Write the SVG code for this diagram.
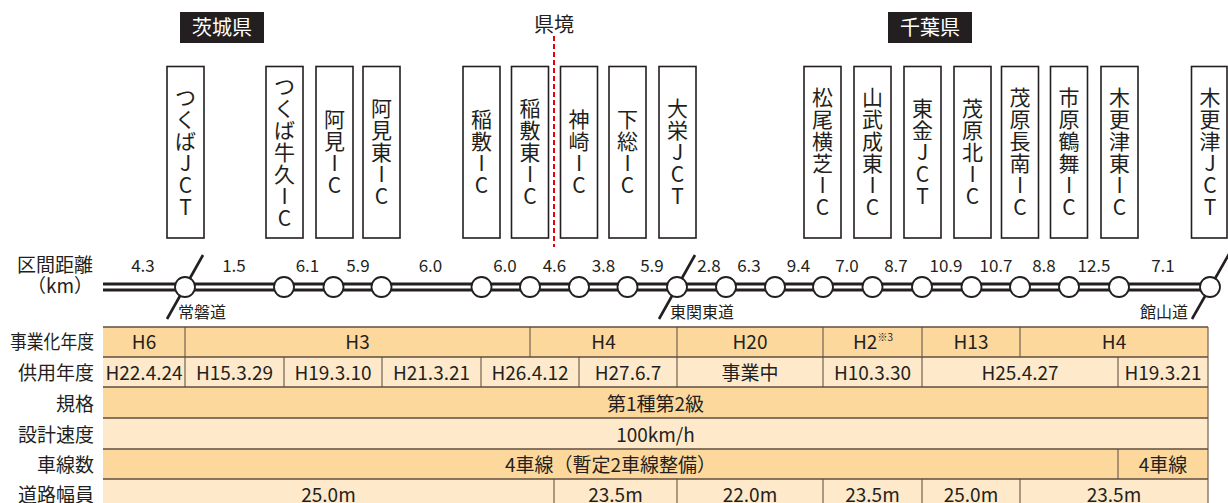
<svg xmlns="http://www.w3.org/2000/svg" width="1228" height="503" viewBox="0 0 1228 503">
<style>
text{font-family:"Noto Sans CJK JP","Noto Sans",sans-serif;fill:#231f20}
.box{fill:#fff;stroke:#231f20;stroke-width:1.6}
.vt{font-size:21px;text-anchor:middle}
.pref{fill:#231f20}
.preft{font-size:20px;fill:#fff;text-anchor:middle}
.dist{font-size:17px;text-anchor:middle}
.road{font-size:16px}
.lbl{font-size:19px;text-anchor:end}
.cell{font-size:19px;text-anchor:middle}
.dk{fill:#fdd89d}
.lt{fill:#feeacb}
.div{stroke:#7d6b58;stroke-width:1.3}
.hl{stroke:#5e4e40;stroke-width:1.3}
.ic{fill:#fff;stroke:#231f20;stroke-width:1.8}
.sl{stroke:#231f20;stroke-width:2.6;stroke-linecap:butt}
</style>

<!-- prefecture labels -->
<g id="pref-ibaraki"><rect class="pref" x="180" y="12" width="84" height="31"/><text class="preft" x="222" y="35">茨城県</text></g>
<g id="pref-chiba"><rect class="pref" x="888" y="12" width="84" height="31"/><text class="preft" x="930" y="35">千葉県</text></g>
<g id="border"><text x="554" y="32" font-size="20" text-anchor="middle">県境</text>
<line x1="554" y1="36" x2="554" y2="247" stroke="#e60012" stroke-width="2" stroke-dasharray="5 3"/></g>

<!-- nodes -->
<g id="n-tsukuba-jct"><rect class="box" x="167" y="66.5" width="37" height="171.5"/><text class="vt"><tspan x="185.5" y="104.5">つ</tspan><tspan x="185.5" dy="22">く</tspan><tspan x="185.5" dy="22">ば</tspan><tspan x="185.5" dy="22">J</tspan><tspan x="185.5" dy="22">C</tspan><tspan x="185.5" dy="22">T</tspan></text></g>
<g id="n-tsukubaushiku-ic"><rect class="box" x="266" y="66.5" width="37" height="171.5"/><text class="vt"><tspan x="284.5" y="93.5">つ</tspan><tspan x="284.5" dy="22">く</tspan><tspan x="284.5" dy="22">ば</tspan><tspan x="284.5" dy="22">牛</tspan><tspan x="284.5" dy="22">久</tspan><tspan x="284.5" dy="22">I</tspan><tspan x="284.5" dy="22">C</tspan></text></g>
<g id="n-ami-ic"><rect class="box" x="316" y="66.5" width="37" height="171.5"/><text class="vt"><tspan x="334.5" y="126.5">阿</tspan><tspan x="334.5" dy="22">見</tspan><tspan x="334.5" dy="22">I</tspan><tspan x="334.5" dy="22">C</tspan></text></g>
<g id="n-amihigashi-ic"><rect class="box" x="363" y="66.5" width="37" height="171.5"/><text class="vt"><tspan x="381.5" y="115.5">阿</tspan><tspan x="381.5" dy="22">見</tspan><tspan x="381.5" dy="22">東</tspan><tspan x="381.5" dy="22">I</tspan><tspan x="381.5" dy="22">C</tspan></text></g>
<g id="n-inashiki-ic"><rect class="box" x="463" y="66.5" width="37" height="171.5"/><text class="vt"><tspan x="481.5" y="126.5">稲</tspan><tspan x="481.5" dy="22">敷</tspan><tspan x="481.5" dy="22">I</tspan><tspan x="481.5" dy="22">C</tspan></text></g>
<g id="n-inashikihigashi-ic"><rect class="box" x="511.5" y="66.5" width="37" height="171.5"/><text class="vt"><tspan x="530" y="115.5">稲</tspan><tspan x="530" dy="22">敷</tspan><tspan x="530" dy="22">東</tspan><tspan x="530" dy="22">I</tspan><tspan x="530" dy="22">C</tspan></text></g>
<g id="n-kozaki-ic"><rect class="box" x="560.5" y="66.5" width="37" height="171.5"/><text class="vt"><tspan x="579" y="126.5">神</tspan><tspan x="579" dy="22">崎</tspan><tspan x="579" dy="22">I</tspan><tspan x="579" dy="22">C</tspan></text></g>
<g id="n-shimofusa-ic"><rect class="box" x="609" y="66.5" width="37" height="171.5"/><text class="vt"><tspan x="627.5" y="126.5">下</tspan><tspan x="627.5" dy="22">総</tspan><tspan x="627.5" dy="22">I</tspan><tspan x="627.5" dy="22">C</tspan></text></g>
<g id="n-taiei-jct"><rect class="box" x="659" y="66.5" width="37" height="171.5"/><text class="vt"><tspan x="677.5" y="115.5">大</tspan><tspan x="677.5" dy="22">栄</tspan><tspan x="677.5" dy="22">J</tspan><tspan x="677.5" dy="22">C</tspan><tspan x="677.5" dy="22">T</tspan></text></g>
<g id="n-matsuoyokoshiba-ic"><rect class="box" x="804" y="66.5" width="37" height="171.5"/><text class="vt"><tspan x="822.5" y="104.5">松</tspan><tspan x="822.5" dy="22">尾</tspan><tspan x="822.5" dy="22">横</tspan><tspan x="822.5" dy="22">芝</tspan><tspan x="822.5" dy="22">I</tspan><tspan x="822.5" dy="22">C</tspan></text></g>
<g id="n-sanbunaruto-ic"><rect class="box" x="854" y="66.5" width="37" height="171.5"/><text class="vt"><tspan x="872.5" y="104.5">山</tspan><tspan x="872.5" dy="22">武</tspan><tspan x="872.5" dy="22">成</tspan><tspan x="872.5" dy="22">東</tspan><tspan x="872.5" dy="22">I</tspan><tspan x="872.5" dy="22">C</tspan></text></g>
<g id="n-togane-jct"><rect class="box" x="904" y="66.5" width="37" height="171.5"/><text class="vt"><tspan x="922.5" y="115.5">東</tspan><tspan x="922.5" dy="22">金</tspan><tspan x="922.5" dy="22">J</tspan><tspan x="922.5" dy="22">C</tspan><tspan x="922.5" dy="22">T</tspan></text></g>
<g id="n-mobarakita-ic"><rect class="box" x="954" y="66.5" width="37" height="171.5"/><text class="vt"><tspan x="972.5" y="115.5">茂</tspan><tspan x="972.5" dy="22">原</tspan><tspan x="972.5" dy="22">北</tspan><tspan x="972.5" dy="22">I</tspan><tspan x="972.5" dy="22">C</tspan></text></g>
<g id="n-mobarachonan-ic"><rect class="box" x="1001.5" y="66.5" width="37" height="171.5"/><text class="vt"><tspan x="1020" y="104.5">茂</tspan><tspan x="1020" dy="22">原</tspan><tspan x="1020" dy="22">長</tspan><tspan x="1020" dy="22">南</tspan><tspan x="1020" dy="22">I</tspan><tspan x="1020" dy="22">C</tspan></text></g>
<g id="n-ichiharatsurumai-ic"><rect class="box" x="1050.5" y="66.5" width="37" height="171.5"/><text class="vt"><tspan x="1069" y="104.5">市</tspan><tspan x="1069" dy="22">原</tspan><tspan x="1069" dy="22">鶴</tspan><tspan x="1069" dy="22">舞</tspan><tspan x="1069" dy="22">I</tspan><tspan x="1069" dy="22">C</tspan></text></g>
<g id="n-kisarazuhigashi-ic"><rect class="box" x="1101" y="66.5" width="37" height="171.5"/><text class="vt"><tspan x="1119.5" y="104.5">木</tspan><tspan x="1119.5" dy="22">更</tspan><tspan x="1119.5" dy="22">津</tspan><tspan x="1119.5" dy="22">東</tspan><tspan x="1119.5" dy="22">I</tspan><tspan x="1119.5" dy="22">C</tspan></text></g>
<g id="n-kisarazu-jct"><rect class="box" x="1191.5" y="66.5" width="35.5" height="171.5"/><text class="vt"><tspan x="1210" y="104.5">木</tspan><tspan x="1210" dy="22">更</tspan><tspan x="1210" dy="22">津</tspan><tspan x="1210" dy="22">J</tspan><tspan x="1210" dy="22">C</tspan><tspan x="1210" dy="22">T</tspan></text></g>

<!-- connectors: road line and crossing expressways -->
<g id="connectors">
<line x1="103" y1="287" x2="1210" y2="287" stroke="#231f20" stroke-width="9"/>
<line x1="103" y1="287" x2="1210" y2="287" stroke="#fff" stroke-width="3"/>
<line class="sl" x1="203" y1="255" x2="167" y2="319"/>
<line class="sl" x1="695" y1="255" x2="659" y2="319"/>
<line class="sl" x1="1229" y1="254" x2="1192" y2="319"/>
<g id="ic-circles">
<circle class="ic" cx="185" cy="287" r="10"/>
<circle class="ic" cx="284" cy="287" r="10"/>
<circle class="ic" cx="333.5" cy="287" r="10"/>
<circle class="ic" cx="381.5" cy="287" r="10"/>
<circle class="ic" cx="481.5" cy="287" r="10"/>
<circle class="ic" cx="530" cy="287" r="10"/>
<circle class="ic" cx="579" cy="287" r="10"/>
<circle class="ic" cx="627.5" cy="287" r="10"/>
<circle class="ic" cx="677" cy="287" r="10"/>
<circle class="ic" cx="726" cy="287" r="10"/>
<circle class="ic" cx="775" cy="287" r="10"/>
<circle class="ic" cx="823" cy="287" r="10"/>
<circle class="ic" cx="872.5" cy="287" r="10"/>
<circle class="ic" cx="922" cy="287" r="10"/>
<circle class="ic" cx="971.5" cy="287" r="10"/>
<circle class="ic" cx="1020" cy="287" r="10"/>
<circle class="ic" cx="1069" cy="287" r="10"/>
<circle class="ic" cx="1119" cy="287" r="10"/>
<circle class="ic" cx="1210" cy="287" r="10"/>
</g>
</g>

<!-- road names -->
<text class="road" x="178" y="318">常磐道</text>
<text class="road" x="670" y="318">東関東道</text>
<text class="road" x="1188" y="318" text-anchor="end">館山道</text>

<!-- distances -->
<g id="distances">
<text class="dist" x="143" y="272">4.3</text>
<text class="dist" x="234" y="272">1.5</text>
<text class="dist" x="307.5" y="272">6.1</text>
<text class="dist" x="358" y="272">5.9</text>
<text class="dist" x="430.5" y="272">6.0</text>
<text class="dist" x="505" y="272">6.0</text>
<text class="dist" x="554.5" y="272">4.6</text>
<text class="dist" x="603.5" y="272">3.8</text>
<text class="dist" x="652" y="272">5.9</text>
<text class="dist" x="709" y="272">2.8</text>
<text class="dist" x="749" y="272">6.3</text>
<text class="dist" x="798.5" y="272">9.4</text>
<text class="dist" x="847" y="272">7.0</text>
<text class="dist" x="896" y="272">8.7</text>
<text class="dist" x="946" y="272">10.9</text>
<text class="dist" x="996" y="272">10.7</text>
<text class="dist" x="1044" y="272">8.8</text>
<text class="dist" x="1094" y="272">12.5</text>
<text class="dist" x="1163" y="272">7.1</text>
</g>

<!-- row labels -->
<g id="row-labels">
<text class="lbl" x="93" y="272">区間距離</text>
<text class="lbl" x="93" y="293">（km）</text>
<text class="lbl" x="94" y="349" textLength="84" lengthAdjust="spacingAndGlyphs">事業化年度</text>
<text class="lbl" x="94" y="380">供用年度</text>
<text class="lbl" x="94" y="411">規格</text>
<text class="lbl" x="94" y="442">設計速度</text>
<text class="lbl" x="94" y="472">車線数</text>
<text class="lbl" x="94" y="502">道路幅員</text>
</g>

<!-- table -->
<g id="table">
<rect class="dk" x="103" y="327" width="1105" height="30"/>
<rect class="lt" x="103" y="357" width="1105" height="30"/>
<rect class="dk" x="103" y="387" width="1105" height="31"/>
<rect class="lt" x="103" y="418" width="1105" height="31"/>
<rect class="dk" x="103" y="449" width="1105" height="30"/>
<rect class="lt" x="103" y="479" width="1105" height="30"/>
<g class="div">
<line x1="185" y1="327" x2="185" y2="357"/><line x1="530" y1="327" x2="530" y2="357"/><line x1="677" y1="327" x2="677" y2="357"/><line x1="823" y1="327" x2="823" y2="357"/><line x1="922" y1="327" x2="922" y2="357"/><line x1="1020" y1="327" x2="1020" y2="357"/>
<line x1="185" y1="357" x2="185" y2="387"/><line x1="284" y1="357" x2="284" y2="387"/><line x1="382" y1="357" x2="382" y2="387"/><line x1="481" y1="357" x2="481" y2="387"/><line x1="579" y1="357" x2="579" y2="387"/><line x1="677" y1="357" x2="677" y2="387"/><line x1="823" y1="357" x2="823" y2="387"/><line x1="922" y1="357" x2="922" y2="387"/><line x1="1118" y1="357" x2="1118" y2="387"/>
<line x1="1118" y1="449" x2="1118" y2="479"/>
<line x1="554" y1="479" x2="554" y2="503"/><line x1="677" y1="479" x2="677" y2="503"/><line x1="823" y1="479" x2="823" y2="503"/><line x1="922" y1="479" x2="922" y2="503"/><line x1="1020" y1="479" x2="1020" y2="503"/>
<line x1="1208" y1="327" x2="1208" y2="503"/>
</g>
<g class="hl">
<line x1="103" y1="327" x2="1208" y2="327"/><line x1="103" y1="357" x2="1208" y2="357"/><line x1="103" y1="387" x2="1208" y2="387"/><line x1="103" y1="418" x2="1208" y2="418"/><line x1="103" y1="449" x2="1208" y2="449"/><line x1="103" y1="479" x2="1208" y2="479"/>
</g>
<g id="row-jigyoka">
<text class="cell" x="144" y="349">H6</text>
<text class="cell" x="357.5" y="349">H3</text>
<text class="cell" x="603.5" y="349">H4</text>
<text class="cell" x="750" y="349">H20</text>
<text x="853" y="349" font-size="19">H2<tspan font-size="10" dy="-8">※3</tspan></text>
<text class="cell" x="971" y="349">H13</text>
<text class="cell" x="1114" y="349">H4</text>
</g>
<g id="row-kyoyo">
<text class="cell" x="144" y="380">H22.4.24</text>
<text class="cell" x="234.5" y="380">H15.3.29</text>
<text class="cell" x="333" y="380">H19.3.10</text>
<text class="cell" x="431.5" y="380">H21.3.21</text>
<text class="cell" x="530" y="380">H26.4.12</text>
<text class="cell" x="628" y="380">H27.6.7</text>
<text class="cell" x="750" y="380">事業中</text>
<text class="cell" x="872.5" y="380">H10.3.30</text>
<text class="cell" x="1020" y="380">H25.4.27</text>
<text class="cell" x="1163" y="380">H19.3.21</text>
</g>
<text class="cell" x="655.5" y="411">第1種第2級</text>
<text class="cell" x="655.5" y="442">100km/h</text>
<text class="cell" x="610.5" y="472">4車線（暫定2車線整備）</text>
<text class="cell" x="1163" y="472">4車線</text>
<g id="row-haba">
<text class="cell" x="328.5" y="502">25.0m</text>
<text class="cell" x="615.5" y="502">23.5m</text>
<text class="cell" x="750" y="502">22.0m</text>
<text class="cell" x="872.5" y="502">23.5m</text>
<text class="cell" x="971" y="502">25.0m</text>
<text class="cell" x="1114" y="502">23.5m</text>
</g>
</g>
</svg>
